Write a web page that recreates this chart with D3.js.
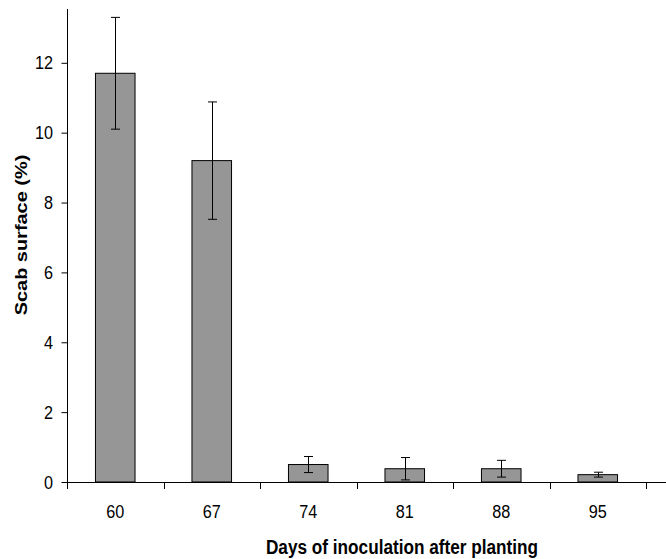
<!DOCTYPE html>
<html>
<head>
<meta charset="utf-8">
<script src="https://cdn.jsdelivr.net/npm/d3@7"></script>
<style>
	body { margin: 0; background: #fff; }
	svg { display: block; font-family: "Liberation Sans", Arial, sans-serif; }
</style>
</head>
<body>
<svg id="chart" width="666" height="559"></svg>
<script>
// data
const days = ["60", "67", "74", "81", "88", "95"];
const scab = [11.7, 9.2, 0.5, 0.38, 0.38, 0.21];
const err = [1.6, 1.68, 0.23, 0.32, 0.24, 0.07];
const yTicks = [0, 2, 4, 6, 8, 10, 12];

const config = {
	width: 666, height: 559,
	left: 67, right: 646, axisEnd: 666,
	top: 9, bottom: 482,
	yMax: 13.54,
	stretch: 1.16 // texts look a bit taller than wide
};

const svg = d3.select("#chart");

// scales
const x = d3.scaleBand().domain(days).range([config.left, config.right]).padding(0);
const y = d3.scaleLinear().domain([0, config.yMax]).range([config.bottom, config.top]);
const bw = x.bandwidth() * 0.41;

// bars
svg.append("g").selectAll("rect")
	.data(days)
	.join("rect")
	.attr("x", (d, i) => x(d) + x.bandwidth() / 2 - bw / 2)
	.attr("y", (d, i) => y(scab[i]))
	.attr("width", bw)
	.attr("height", (d, i) => y(0) - y(scab[i]))
	.attr("fill", "#969696")
	.attr("stroke", "#000")
	.attr("stroke-width", 1);

// error bars
const eg = svg.append("g").attr("stroke", "#000").attr("stroke-width", 1);
days.forEach((d, i) => {
	const cx = Math.round(x(d) + x.bandwidth() / 2) + 0.5;
	const y1 = y(scab[i] + err[i]), y0 = y(Math.max(0, scab[i] - err[i]));
	eg.append("line").attr("x1", cx).attr("x2", cx).attr("y1", y1).attr("y2", y0);
	eg.append("line").attr("x1", cx - 4.5).attr("x2", cx + 4.5).attr("y1", y1).attr("y2", y1);
	eg.append("line").attr("x1", cx - 4.5).attr("x2", cx + 4.5).attr("y1", y0).attr("y2", y0);
});

// y axis
svg.append("g")
	.attr("transform", `translate(${config.left},0)`)
	.call(d3.axisLeft(y).tickValues(yTicks).tickSize(6).tickPadding(8).tickSizeOuter(0))
	.call(g => g.select(".domain").attr("d", `M0.5,${config.top}V${config.bottom}`))
	.call(g => g.selectAll("line").attr("transform", "translate(0.5,0)"))
	.call(g => g.selectAll("text")
		.attr("font-size", 16.2)
		.attr("fill", "#000")
		.attr("font-family", "Liberation Sans, Arial, sans-serif")
		.attr("transform", `scale(1,${config.stretch})`));

// x axis (ticks on band edges)
const xg = svg.append("g").attr("transform", `translate(0,${config.bottom})`);
xg.append("line")
	.attr("x1", config.left).attr("x2", config.axisEnd)
	.attr("y1", 0.5).attr("y2", 0.5)
	.attr("stroke", "#000");
const edges = days.map(d => x(d)).concat([config.right]);
xg.selectAll(".tk").data(edges).join("line")
	.attr("x1", d => Math.round(d) + 0.5).attr("x2", d => Math.round(d) + 0.5)
	.attr("y1", 0).attr("y2", 7)
	.attr("stroke", "#000");
xg.selectAll("text").data(days).join("text")
	.attr("transform", d => `translate(${x(d) + x.bandwidth() / 2},36) scale(1,${config.stretch})`)
	.attr("text-anchor", "middle")
	.attr("font-size", 16.2)
	.text(d => d);

// titles
svg.append("text")
	.attr("transform", `translate(402,554) scale(1,${config.stretch})`)
	.attr("text-anchor", "middle")
	.attr("font-size", 17.2)
	.attr("font-weight", "bold")
	.text("Days of inoculation after planting");

svg.append("text")
	.attr("transform", `translate(27,235) scale(1,${config.stretch}) rotate(-90)`)
	.attr("text-anchor", "middle")
	.attr("font-size", 17.2)
	.attr("font-weight", "bold")
	.text("Scab surface (%)");
</script>
</body>
</html>
